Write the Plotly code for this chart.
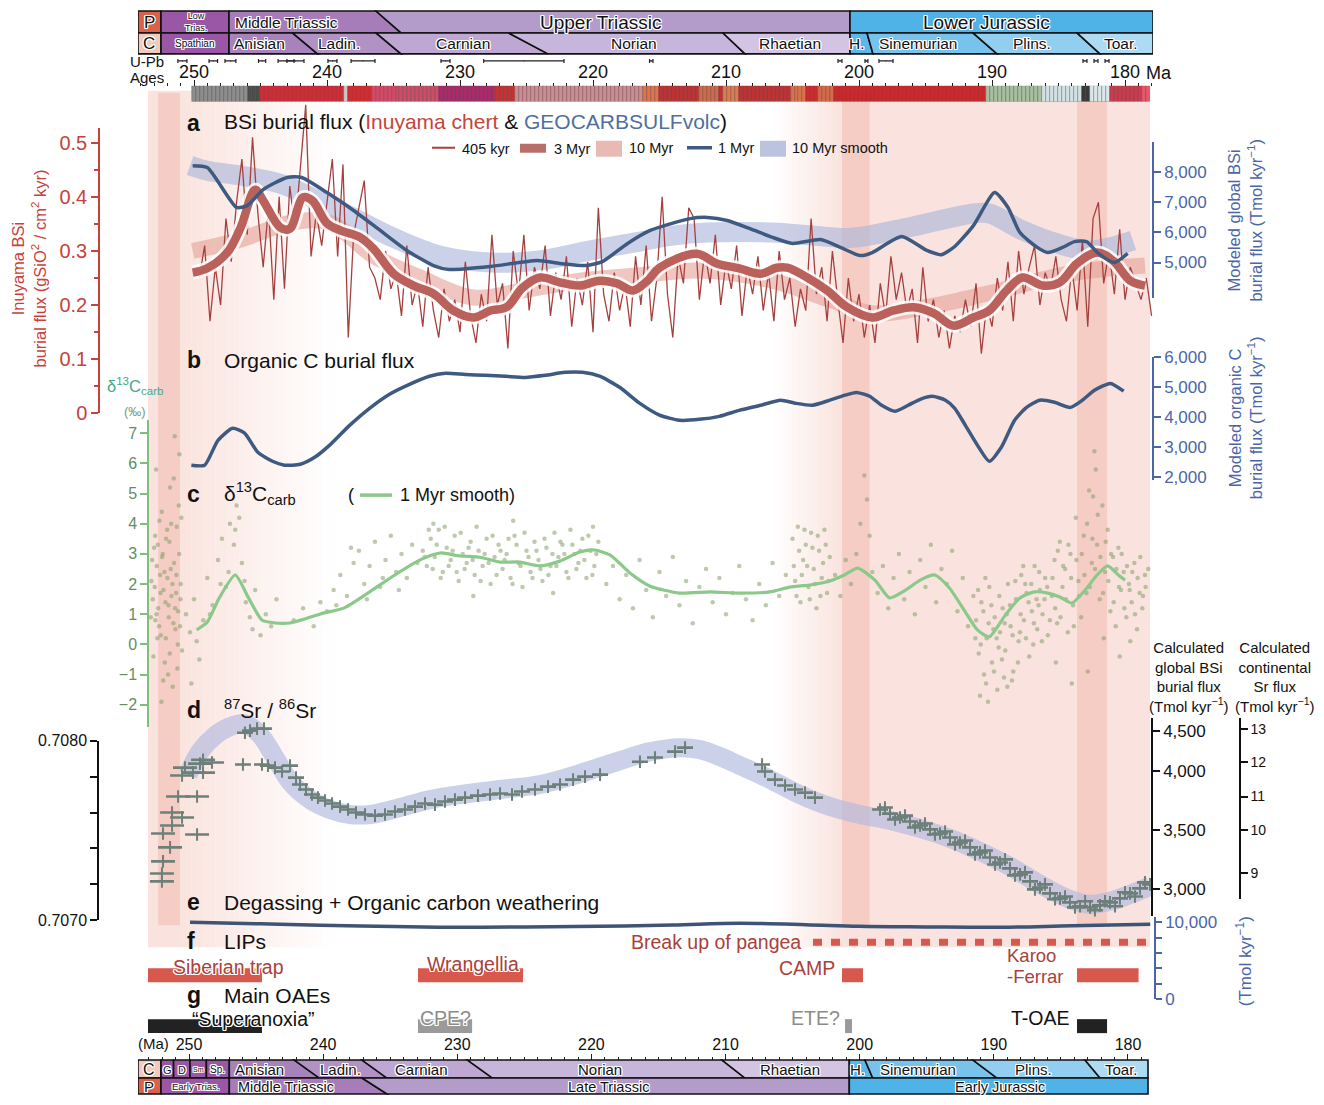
import numpy as np
import plotly.graph_objects as go

W, H = 1324, 1105
FONT = "Liberation Sans, Arial, Helvetica, sans-serif"
HALO = ("1px 1px 0 #fff, -1px -1px 0 #fff, 1px -1px 0 #fff, -1px 1px 0 #fff, "
        "1px 0 0 #fff, -1px 0 0 #fff, 0 1px 0 #fff, 0 -1px 0 #fff")

RED = "#c8413a"
BLUE = "#4a66a8"
NAVY = "#3e5a80"
GREEN = "#8ac98a"
LIPRED = "#d9584e"

# ------------------------------------------------------------------ data --
# (a) Inuyama chert BSi burial flux (g SiO2 cm-2 kyr-1), 405-kyr filtered record
bsi_405_first_age = 249.6
bsi_405_step = 0.4
bsi_405 = [
    0.25, 0.31, 0.17, 0.27, 0.20, 0.36, 0.28, 0.39, 0.47, 0.33,
    0.51, 0.37, 0.27, 0.38, 0.21, 0.40, 0.23, 0.42, 0.34, 0.45,
    0.57, 0.29, 0.37, 0.31, 0.39, 0.47, 0.29, 0.46, 0.14, 0.33,
    0.38, 0.43, 0.27, 0.25, 0.21, 0.30, 0.23, 0.26, 0.18, 0.31,
    0.20, 0.24, 0.16, 0.27, 0.19, 0.14, 0.23, 0.17, 0.21, 0.15,
    0.28, 0.18, 0.13, 0.22, 0.17, 0.33, 0.20, 0.24, 0.12, 0.30,
    0.22, 0.33, 0.19, 0.27, 0.23, 0.31, 0.18, 0.26, 0.21, 0.29,
    0.16, 0.25, 0.20, 0.28, 0.15, 0.38, 0.22, 0.17, 0.26, 0.19,
    0.24, 0.16, 0.29, 0.20, 0.31, 0.17, 0.25, 0.40, 0.22, 0.14,
    0.29, 0.24, 0.38, 0.36, 0.21, 0.30, 0.24, 0.33, 0.20, 0.28,
    0.23, 0.31, 0.18, 0.27, 0.22, 0.29, 0.19, 0.26, 0.17, 0.30,
    0.21, 0.25, 0.16, 0.23, 0.19, 0.36, 0.22, 0.27, 0.17, 0.30,
    0.21, 0.13, 0.25, 0.17, 0.22, 0.14, 0.20, 0.13, 0.24, 0.18,
    0.29, 0.21, 0.26, 0.19, 0.23, 0.13, 0.27, 0.17, 0.21, 0.14,
    0.19, 0.12, 0.18, 0.15, 0.21, 0.16, 0.24, 0.11, 0.20, 0.16,
    0.25, 0.19, 0.28, 0.17, 0.30, 0.22, 0.27, 0.31, 0.20, 0.26,
    0.23, 0.29, 0.21, 0.17, 0.27, 0.19, 0.32, 0.16, 0.36, 0.39,
    0.24, 0.30, 0.22, 0.34, 0.21, 0.27, 0.24, 0.21, 0.25, 0.18,
]
bsi_405_age = bsi_405_first_age - bsi_405_step * np.arange(len(bsi_405))

bsi_3myr_age = [250.1, 249.0, 247.5, 246.5, 245.4, 244.8, 243.5, 242.8, 241.8, 241.1,
                240.0, 239.0, 237.5, 236.5, 235.0, 233.5, 232.0, 230.5, 229.0, 227.7,
                226.5, 225.3, 224.0, 222.5, 221.0, 219.5, 218.2, 217.0, 215.9, 215.0,
                212.2, 210.7, 209.0, 207.4, 206.2, 205.4, 203.9, 202.4, 200.9, 199.0,
                197.4, 195.9, 194.4, 192.9, 191.4, 190.2, 188.9, 187.7, 186.2, 184.9,
                183.6, 182.1, 180.9, 179.6, 178.5]
bsi_3myr = [0.260, 0.268, 0.297, 0.343, 0.413, 0.393, 0.343, 0.341, 0.399, 0.393,
            0.351, 0.338, 0.325, 0.304, 0.258, 0.236, 0.221, 0.190, 0.177, 0.190,
            0.196, 0.232, 0.251, 0.242, 0.236, 0.245, 0.240, 0.227, 0.245, 0.269,
            0.295, 0.277, 0.268, 0.258, 0.269, 0.269, 0.251, 0.227, 0.196, 0.177,
            0.190, 0.196, 0.185, 0.162, 0.177, 0.190, 0.227, 0.251, 0.236, 0.242,
            0.277, 0.297, 0.282, 0.245, 0.236]

bsi_10myr_age = [250.1, 246.5, 242.8, 239.8, 236.5, 233.0, 229.0, 225.3, 221.0, 216.5,
                 212.0, 206.5, 202.0, 199.0, 194.4, 189.4, 184.9, 181.1, 178.5]
bsi_10myr = [0.300, 0.321, 0.352, 0.352, 0.291, 0.251, 0.214, 0.227, 0.245, 0.255,
             0.264, 0.245, 0.208, 0.185, 0.199, 0.227, 0.255, 0.268, 0.273]

# GEOCARBSULFvolc modelled global BSi burial (Tmol kyr-1)
geo_bsi_1myr_age = [250.1, 249.0, 246.8, 246.0, 244.8, 243.0, 241.9, 240.0, 238.0, 236.0,
                    234.0, 232.0, 230.8, 227.7, 224.2, 222.5, 220.5, 219.3, 217.4, 215.7,
                    212.7, 211.4, 209.9, 208.2, 206.5, 205.0, 202.9, 201.4, 199.9, 199.0,
                    196.8, 194.9, 193.8, 192.8, 191.4, 189.8, 188.8, 187.9, 186.6, 185.8,
                    184.7, 183.8, 182.9, 182.0, 180.8, 179.8]
geo_bsi_1myr = [8200, 8140, 6820, 6880, 7410, 7810, 7810, 7310, 6720, 6060,
                5400, 4900, 4770, 4870, 5070, 4970, 4900, 5030, 5630, 6060,
                6450, 6490, 6390, 6120, 5830, 5630, 5760, 5500, 5230, 5330,
                5860, 5400, 5260, 5530, 6220, 7310, 6820, 5990, 5500, 5330,
                5500, 5690, 5690, 5300, 5000, 5300]
geo_bsi_10myr_age = [250.3, 249.0, 246.5, 243.5, 241.1, 238.0, 235.0, 231.5, 227.7, 224.0,
                     220.2, 216.5, 214.0, 211.4, 206.5, 203.5, 200.5, 196.4, 191.4, 190.2,
                     187.7, 185.1, 182.6, 179.4]
geo_bsi_10myr = [8200, 8030, 7870, 7600, 7140, 6480, 5820, 5230, 5000, 5070,
                 5400, 5690, 5890, 5990, 5990, 5890, 5820, 6150, 6620, 6620,
                 6060, 5630, 5400, 5730]

# (b) modelled organic C burial (Tmol kyr-1)
orgc_age = [250.2, 249.2, 248.2, 247.1, 246.2, 245.2, 244.1, 243.2, 242.0, 240.9,
            239.8, 238.3, 236.8, 235.3, 233.8, 232.3, 231.1, 229.6, 228.1, 226.6,
            225.1, 223.6, 222.1, 220.8, 219.5, 218.0, 216.5, 215.0, 213.5, 212.0,
            210.5, 209.0, 207.4, 205.9, 204.8, 203.5, 202.2, 201.1, 200.2, 199.2,
            198.3, 197.3, 196.3, 195.4, 194.5, 193.5, 192.8, 192.0, 191.1, 190.2,
            189.3, 188.3, 187.4, 186.4, 185.3, 184.1, 183.2, 182.3, 181.1, 180.1]
orgc = [2400, 2400, 3230, 3630, 3470, 2830, 2530, 2400, 2430, 2670,
        3070, 3730, 4300, 4770, 5100, 5370, 5470, 5430, 5400, 5370,
        5330, 5400, 5500, 5500, 5370, 5000, 4470, 4070, 3900, 3930,
        4030, 4230, 4400, 4570, 4470, 4400, 4570, 4730, 4830, 4700,
        4400, 4200, 4400, 4600, 4700, 4570, 4300, 3730, 3070, 2530,
        3000, 3900, 4330, 4570, 4500, 4330, 4570, 4900, 5130, 4870]

# (c) carbonate d13C (permil), compiled measurements (age Ma, value)
d13c_ptb = [(253.2, 2.1), (253.1, 1.5), (253.0, 3.2), (252.9, 0.8), (252.8, 2.6), (252.7, 1.2),
            (252.6, 4.1), (252.5, 0.3), (252.4, 2.9), (252.3, 1.8), (252.2, -0.6), (252.1, 3.5),
            (252.0, 2.2), (251.9, 0.9), (251.8, 5.2), (251.7, 1.6), (251.6, -1.4), (251.5, 2.7),
            (251.4, 0.5), (251.3, 3.9), (251.2, 1.1), (251.1, 6.3), (251.0, 2.0), (250.9, -0.2),
            (252.95, 1.9), (252.75, 0.2), (252.55, 2.3), (252.35, 3.0), (252.15, 1.4), (251.95, -1.0),
            (251.75, 2.5), (251.55, 0.7), (251.35, 1.7), (251.15, 4.6), (252.85, 5.8), (252.45, -1.9),
            (251.85, 3.4), (251.45, 6.9), (251.25, -0.8), (251.05, 0.6),
            (253.25, 0.9), (253.15, 2.8), (253.05, -0.4), (252.92, 3.6), (252.82, 1.0), (252.72, 3.3),
            (252.62, 0.6), (252.52, 1.7), (252.42, 4.4), (252.32, -1.2), (252.22, 2.4), (252.12, 0.2),
            (252.02, 3.8), (251.92, 1.3), (251.82, -0.3), (251.72, 4.0), (251.62, 2.0), (251.52, 5.5),
            (251.42, 1.2), (251.32, 2.3), (251.22, 0.0), (251.12, 3.0), (251.02, 1.5), (250.95, 4.2)]
d13c_early_tr = [(250.6, 1.0), (250.3, 0.4), (250.0, 1.5), (249.6, -0.5), (249.3, 0.8), (249.0, 2.2),
                 (248.6, 1.3), (248.2, 2.8), (247.9, 3.5), (247.6, 1.9), (247.3, 4.0), (247.0, 3.3),
                 (246.8, 4.6), (246.6, 4.2), (246.4, 2.7), (246.1, 1.4), (245.8, 0.9), (245.4, 1.8),
                 (245.0, 0.3), (244.6, 1.0), (244.2, 0.6), (243.8, 1.5), (250.2, -1.3), (249.8, 0.1),
                 (248.8, 1.0), (248.0, 2.0), (247.4, 2.4), (246.9, 3.8), (246.2, 2.1), (245.6, 0.5),
                 (242.5, 0.8), (241.8, 1.2), (241.0, 0.6), (240.5, 1.4), (240.0, 1.1), (239.5, 1.8)]
d13c_mid_tr = [(239.0, 2.3), (238.5, 1.6), (238.0, 2.7), (237.6, 3.1), (237.2, 2.0), (236.8, 2.6),
               (236.4, 3.4), (236.0, 1.9), (235.6, 2.8), (235.2, 3.6), (234.8, 2.4), (234.4, 3.0),
               (234.0, 2.2), (233.6, 3.3), (233.2, 2.7), (239.3, 1.3), (238.2, 3.2), (237.0, 1.5),
               (235.8, 2.2), (234.6, 1.8)]
d13c_late_tr = [(232.8, 3.1), (232.5, 2.6), (232.2, 3.5), (231.9, 2.9), (231.6, 3.8), (231.3, 2.4),
                (231.0, 3.2), (230.7, 2.8), (230.4, 3.6), (230.1, 2.1), (229.8, 3.0), (229.5, 2.7),
                (229.2, 3.4), (228.9, 2.3), (228.6, 3.1), (228.3, 2.6), (228.0, 3.5), (227.7, 2.0),
                (227.4, 2.9), (227.1, 3.3), (226.8, 2.5), (226.5, 3.0), (226.2, 2.2), (225.9, 3.6),
                (225.6, 2.7), (225.3, 1.9), (225.0, 3.1), (224.7, 2.4), (224.4, 3.4), (224.1, 2.8),
                (223.8, 2.1), (223.5, 3.2), (223.2, 2.6), (222.9, 3.7), (222.6, 2.9), (222.3, 3.3),
                (222.0, 2.4), (221.7, 3.8), (221.4, 3.0), (221.1, 2.7), (220.8, 3.5), (220.5, 2.2),
                (220.2, 3.1), (219.9, 2.6), (219.6, 3.4), (232.0, 4.0), (229.0, 1.6), (226.0, 4.1),
                (223.0, 1.7), (220.0, 3.9),
                (232.65, 2.9), (232.35, 3.8), (232.05, 2.5), (231.75, 3.3), (231.45, 2.2), (231.15, 3.9),
                (230.85, 2.6), (230.55, 3.1), (230.25, 2.4), (229.95, 3.7), (229.65, 2.5), (229.35, 3.2),
                (229.05, 2.8), (228.75, 3.9), (228.45, 2.1), (228.15, 3.0), (227.85, 2.7), (227.55, 3.6),
                (227.25, 2.3), (226.95, 3.1), (226.65, 2.8), (226.35, 3.5), (226.05, 2.0), (225.75, 3.3),
                (225.45, 2.6), (225.15, 3.7), (224.85, 2.9), (224.55, 2.2), (224.25, 3.1), (223.95, 2.5),
                (223.65, 3.5), (223.35, 2.3), (223.05, 3.0), (222.75, 2.6), (222.45, 3.4), (222.15, 3.0),
                (221.85, 2.2), (221.55, 3.3), (221.25, 2.5), (220.95, 3.1), (220.65, 2.8), (220.35, 3.6),
                (220.05, 2.3), (219.75, 3.0),
                (219.0, 2.0), (218.5, 2.6), (218.0, 1.5), (217.5, 2.3), (217.0, 1.2), (216.5, 2.8),
                (216.0, 1.8), (215.5, 0.9), (215.0, 2.4), (214.5, 1.6), (214.0, 2.9), (213.5, 1.3),
                (213.0, 2.1), (212.5, 0.7), (212.0, 1.9), (211.5, 2.5), (211.0, 1.4), (210.5, 2.2),
                (210.0, 1.0), (209.5, 1.7), (209.0, 2.6), (208.5, 1.5), (208.0, 0.8), (207.5, 2.0),
                (207.0, 1.3), (206.5, 2.7), (206.0, 1.6), (205.5, 2.3),
                (205.0, 3.5), (204.8, 2.1), (204.6, 3.9), (204.4, 1.4), (204.2, 2.8), (204.0, 3.3),
                (203.8, 1.9), (203.6, 3.7), (203.4, 2.5), (203.2, 1.2), (203.0, 3.1), (202.8, 2.2),
                (202.6, 3.8), (202.4, 1.7), (202.2, 2.9),
                (204.9, 2.6), (204.7, 1.6), (204.5, 3.1), (204.3, 2.3), (204.1, 3.8), (203.9, 2.6),
                (203.7, 1.5), (203.5, 3.2), (203.3, 2.0), (203.1, 3.6), (202.9, 1.6), (202.7, 2.7),
                (202.5, 3.3), (202.3, 2.1)]
d13c_early_jr = [(201.8, 2.3), (201.4, 1.6), (201.0, 2.8), (200.6, 2.0), (200.2, 3.0), (199.9, 4.0),
                 (199.6, 5.6), (199.4, 4.8), (199.2, 3.6), (199.0, 2.4),
                 (198.6, 1.7), (198.2, 2.6), (197.8, 1.2), (197.4, 2.2), (197.0, 3.0), (196.6, 1.5),
                 (196.2, 2.4), (195.8, 1.0), (195.4, 2.8), (195.0, 1.9), (194.6, 3.3), (194.2, 1.4),
                 (193.8, 2.5), (193.4, 2.0), (193.0, 3.1), (192.6, 1.1), (192.2, 2.2), (191.8, 0.6),
                 (191.4, 1.6),
                 (191.2, 0.8), (191.0, -0.3), (190.8, 1.4), (190.6, -1.0), (190.4, 0.2), (190.2, 1.9),
                 (190.0, -0.6), (189.8, 0.9), (189.6, -1.5), (189.4, 0.4), (189.2, 1.2), (189.0, -0.2),
                 (188.8, 2.0), (188.6, 0.6), (188.4, -0.9), (188.2, 1.5), (188.0, 0.1), (187.8, 2.3),
                 (187.6, 0.8), (187.4, 1.7), (187.2, -0.4), (187.0, 1.1), (186.8, 2.6), (186.6, 0.5),
                 (186.4, 1.8), (186.2, 1.0), (186.0, 2.2), (185.8, 0.3), (190.9, -1.7), (190.5, 2.2),
                 (189.9, 0.5), (189.5, -0.1), (188.9, 1.0), (188.5, -1.2), (187.9, 0.4), (187.5, 2.0),
                 (186.9, 0.0), (186.5, 1.3), (190.3, -1.9), (189.1, -1.1),
                 (191.25, 0.2), (191.05, 1.8), (190.85, 0.0), (190.65, 1.1), (190.45, -1.3), (190.25, 0.7),
                 (190.05, 1.3), (189.85, -0.9), (189.65, 0.2), (189.45, 1.6), (189.25, -0.5), (189.05, 0.7),
                 (188.85, -1.4), (188.65, 1.3), (188.45, 0.3), (188.25, 2.1), (188.05, -0.6), (187.85, 1.0),
                 (187.65, 2.6), (187.45, 0.2), (187.25, 1.4), (187.05, 2.0), (186.85, 0.7), (186.65, 1.5),
                 (186.45, 2.4), (186.25, 0.1), (186.05, 1.5), (185.85, 1.9), (185.65, 0.8)]
d13c_toarc = [(185.5, 1.6), (185.3, 2.8), (185.1, 0.7), (184.9, 3.4), (184.7, 1.9), (184.5, 2.5),
              (184.3, 0.4), (184.1, 3.0), (183.9, 1.3), (183.7, 4.2), (183.5, 2.1), (183.3, 0.9),
              (183.1, 3.6), (182.9, 1.7), (182.7, 5.1), (182.5, 2.7), (182.3, 6.4), (182.1, 3.3),
              (181.9, 1.5), (181.7, 4.6), (181.5, 2.4), (181.3, 3.8), (181.1, 1.1), (180.9, 2.9),
              (180.7, 0.6), (180.5, 3.2), (180.3, 1.8), (180.1, 2.4), (179.9, 0.9), (179.7, 2.0),
              (179.5, 1.4), (179.3, 2.7), (179.1, 0.5), (178.9, 1.7), (178.7, 1.2), (178.5, 2.3),
              (185.2, -0.6), (184.0, -1.3), (182.8, -0.9), (181.6, 0.2), (180.4, -0.4), (179.6, 0.1),
              (182.4, 4.9), (182.2, 5.8),
              (185.45, 2.2), (185.25, 1.2), (185.05, 3.1), (184.85, 0.9), (184.65, 2.6), (184.45, 1.5),
              (184.25, 3.3), (184.05, 2.2), (183.85, 0.6), (183.65, 2.8), (183.45, 1.6), (183.25, 3.0),
              (183.05, 2.3), (182.85, 4.0), (182.65, 1.9), (182.45, 3.5), (182.25, 2.5), (182.05, 4.3),
              (181.85, 2.9), (181.65, 1.7), (181.45, 3.4), (181.25, 2.1), (181.05, 3.0), (180.85, 1.4),
              (180.65, 2.5), (180.45, 1.9), (180.25, 3.0), (180.05, 1.2), (179.85, 2.6), (179.65, 1.8),
              (179.45, 2.4), (179.25, 1.0), (179.05, 2.2), (178.85, 2.9), (178.65, 1.6), (178.45, 1.9),
              (178.25, 2.5)]

d13c_smooth_age = [249.8, 249.0, 248.1, 246.9, 245.9, 244.9, 243.9, 242.8, 241.7, 240.5,
                   238.7, 236.8, 234.9, 233.0, 231.5, 230.0, 228.5, 227.0, 225.5, 224.0,
                   222.5, 221.0, 219.9, 218.7, 217.2, 215.7, 213.5, 211.2, 209.0, 206.7,
                   205.2, 203.7, 202.2, 201.1, 200.1, 198.8, 197.7, 196.5, 195.4, 194.3,
                   193.2, 192.0, 191.1, 190.2, 189.0, 187.9, 186.8, 185.8, 184.9, 184.0,
                   183.0, 182.1, 181.3, 180.5, 180.0]
d13c_smooth = [0.48, 0.74, 1.54, 2.30, 1.54, 0.81, 0.71, 0.71, 0.84, 1.01,
               1.21, 1.74, 2.30, 2.80, 3.03, 2.93, 2.89, 2.73, 2.73, 2.60,
               2.76, 3.06, 3.13, 2.96, 2.36, 1.93, 1.70, 1.74, 1.70, 1.74,
               1.90, 1.97, 2.10, 2.30, 2.53, 2.13, 1.54, 1.80, 2.13, 2.30,
               1.87, 1.07, 0.48, 0.25, 0.97, 1.54, 1.74, 1.70, 1.57, 1.37,
               1.80, 2.30, 2.60, 2.30, 2.13]

# (d) seawater 87Sr/86Sr (age Ma, ratio)
sr_ptb = [(252.41, 0.707217), (252.41, 0.707261), (252.33, 0.707328), (251.80, 0.707406),
          (252.33, 0.707483), (251.65, 0.707528), (251.65, 0.707600), (250.90, 0.707572),
          (251.20, 0.707689), (250.90, 0.707806), (250.68, 0.707850), (249.77, 0.707478),
          (249.77, 0.707689), (250.08, 0.707822), (249.32, 0.707822), (249.32, 0.707894),
          (248.65, 0.707878), (249.55, 0.707872)]
sr_ptb_err = 0.9
sr_main = [(246.32, 0.707867), (246.17, 0.708044), (245.26, 0.708067), (245.79, 0.708056),
           (244.74, 0.708067), (244.89, 0.707867), (244.44, 0.707861), (243.91, 0.707850),
           (243.38, 0.707828), (242.78, 0.707861), (242.33, 0.707794), (242.03, 0.707756),
           (241.58, 0.707728), (241.13, 0.707700), (240.68, 0.707683), (240.15, 0.707667),
           (239.62, 0.707650), (239.02, 0.707633), (238.42, 0.707617), (237.82, 0.707600),
           (237.14, 0.707589), (236.39, 0.707583), (235.64, 0.707589), (234.89, 0.707606),
           (234.14, 0.707617), (233.38, 0.707633), (232.63, 0.707650), (231.88, 0.707644),
           (231.13, 0.707661), (230.38, 0.707672), (229.62, 0.707683), (228.65, 0.707694),
           (227.74, 0.707700), (226.99, 0.707706), (226.09, 0.707700), (225.34, 0.707717),
           (224.36, 0.707728), (223.38, 0.707744), (222.48, 0.707756), (221.50, 0.707783),
           (220.60, 0.707800), (219.47, 0.707811), (216.47, 0.707883), (215.34, 0.707906),
           (213.83, 0.707939), (213.08, 0.707961), (207.29, 0.707867), (207.07, 0.707828),
           (206.32, 0.707783), (205.56, 0.707750), (204.81, 0.707728), (204.06, 0.707711),
           (203.31, 0.707683),
           (198.42, 0.707617), (197.67, 0.707594), (196.92, 0.707572), (196.17, 0.707550),
           (195.41, 0.707528), (194.66, 0.707506), (193.91, 0.707483), (193.16, 0.707461),
           (192.41, 0.707433), (191.65, 0.707406), (190.90, 0.707378), (190.15, 0.707350),
           (189.40, 0.707322), (188.65, 0.707289), (187.89, 0.707256), (187.14, 0.707217),
           (186.39, 0.707183), (185.64, 0.707150), (184.89, 0.707122), (184.14, 0.707100),
           (183.38, 0.707078), (182.63, 0.707072), (181.88, 0.707083), (181.13, 0.707100),
           (180.38, 0.707122), (179.62, 0.707150), (178.87, 0.707178), (178.12, 0.707200),
           (198.05, 0.707628), (197.29, 0.707561), (196.54, 0.707583), (195.79, 0.707517),
           (195.04, 0.707539), (194.29, 0.707478), (193.53, 0.707494), (192.78, 0.707422),
           (192.03, 0.707444), (191.28, 0.707367), (190.53, 0.707389), (189.77, 0.707311),
           (189.02, 0.707339), (188.27, 0.707250), (187.52, 0.707267), (186.77, 0.707172),
           (186.02, 0.707200), (185.26, 0.707117), (184.51, 0.707133), (183.76, 0.707072),
           (183.00, 0.707106), (182.26, 0.707056), (181.50, 0.707106), (180.75, 0.707078),
           (180.00, 0.707156), (179.25, 0.707133), (178.50, 0.707211)]
sr_main_err = 0.6

sr_smooth_age = [250.45, 249.55, 248.42, 247.29, 246.17, 245.04, 243.91, 242.78, 241.28, 239.77,
                 238.27, 236.77, 234.51, 232.26, 230.00, 226.99, 223.98, 220.98, 217.97, 215.71,
                 213.46, 211.95, 210.45, 208.95, 207.44, 205.94, 204.44, 202.18, 199.92, 197.67,
                 195.41, 193.16, 190.90, 188.65, 186.39, 184.14, 182.63, 181.13, 179.62, 178.12]
sr_smooth = [0.707811, 0.707939, 0.708028, 0.708078, 0.708094, 0.708033, 0.707906, 0.707772,
             0.707672, 0.707617, 0.707589, 0.707589, 0.707628, 0.707672, 0.707700, 0.707728,
             0.707756, 0.707817, 0.707889, 0.707939, 0.707961, 0.707950, 0.707911, 0.707861,
             0.707811, 0.707756, 0.707700, 0.707633, 0.707589, 0.707556, 0.707511, 0.707456,
             0.707383, 0.707300, 0.707200, 0.707117, 0.707089, 0.707106, 0.707144, 0.707189]

# (e) degassing + organic carbon weathering (Tmol kyr-1)
degas_age = [250.3, 245.0, 240.5, 235.0, 230.0, 225.0, 219.5, 214.0, 209.0, 204.0,
             200.0, 195.0, 189.4, 184.0, 178.1]
degas = [10000, 9800, 9610, 9450, 9350, 9400, 9480, 9650, 9870, 9700,
         9480, 9400, 9350, 9550, 9740]

# (f) large igneous provinces (old age, young age)
lip_names = ["Siberian trap", "Wrangellia", "CAMP", "Karoo-Ferrar"]
lip_old = [253.46, 233.16, 201.28, 183.61]
lip_young = [244.89, 225.26, 199.70, 178.98]
pangea_breakup = (203.46, 178.12)

# (g) oceanic anoxic events (old age, young age)
oae_names = ["Superanoxia", "CPE?", "ETE?", "T-OAE"]
oae_old = [253.46, 233.16, 201.05, 183.61]
oae_young = [244.89, 229.09, 200.53, 181.35]

# U-Pb radioisotopic ages (Ma) and 2-sigma uncertainties (Myr)
upb_age = [250.87, 248.55, 247.26, 244.88, 243.08, 242.37, 239.59, 237.29, 231.09,
           225.20, 215.62, 201.43, 199.44, 197.97, 183.01, 182.18, 181.35]
upb_err = [0.34, 0.32, 0.41, 0.27, 0.60, 0.64, 0.34, 0.90, 0.34,
           3.02, 0.13, 0.15, 0.11, 0.53, 0.15, 0.15, 0.15]

# Magnetostratigraphic / lithological colour log (old age, young age, colour)
mag_old = [250.08, 245.90, 244.96, 238.87, 238.35, 236.62, 231.58, 227.29, 225.94, 216.24,
           215.11, 211.96, 210.68, 210.23, 209.17, 205.19, 204.06, 203.16, 201.96, 190.38,
           186.39, 183.23, 182.78, 181.28, 178.87]
mag_young = [245.90, 244.96, 238.87, 238.35, 236.62, 231.58, 227.29, 225.94, 216.24, 215.11,
             211.96, 210.68, 210.23, 209.17, 205.19, 204.06, 203.16, 201.96, 190.38, 186.39,
             183.23, 182.78, 181.28, 178.87, 178.12]
mag_colors = ["#8d8d8d", "#4d4d4d", "#c8303a", "#c9c9c9", "#cc2f33", "#cf4c68", "#b3246e",
              "#cf2e30", "#c98d92", "#e0734c", "#c92d30", "#cf6a4a", "#c92d30", "#dc7a50",
              "#c92d30", "#d9734d", "#c92d30", "#cf6d4b", "#c62b2e", "#a5bf9f", "#d2e2e4",
              "#3a3a3a", "#dbe7ea", "#c2404f", "#e35b6b"]

# Geological time scale (top strip): boundary ages as (upper edge, lower edge)
ts_top_epoch_b = [(254.211, 254.211), (252.481, 252.481), (247.368, 247.368),
                  (236.316, 234.436), (200.677, 200.677), (177.895, 177.895)]
ts_top_epoch = ["P", "Low<br>Trias.", "Middle Triassic", "Upper Triassic", "Lower Jurassic"]
ts_top_stage_b = [(254.211, 254.211), (252.481, 252.481), (247.368, 247.368),
                  (242.594, 240.714), (236.316, 234.436), (226.346, 223.383),
                  (210.226, 208.571), (200.677, 200.677), (199.398, 198.947),
                  (191.429, 189.624), (183.609, 181.880), (177.895, 177.895)]
ts_top_stage = ["C", "Spathian", "Anisian", "Ladin.", "Carnian", "Norian", "Rhaetian",
                "H.", "Sinemurian", "Plins.", "Toar."]
# bottom strip (own age scale)
ts_bot_stage_b = [(253.802, 253.802), (252.087, 252.087), (251.148, 251.148),
                  (249.925, 249.925), (248.703, 248.703), (246.996, 246.996),
                  (242.150, 240.286), (237.103, 235.240), (229.238, 227.374),
                  (210.265, 208.550), (200.776, 200.776), (199.605, 199.031),
                  (191.553, 189.764), (183.204, 182.086), (178.507, 178.507)]
ts_bot_stage = ["C", "G", "D", "Sm", "Sp.", "Anisian", "Ladin.", "Carnian", "Norian",
                "Rhaetian", "H.", "Sinemurian", "Plins.", "Toar."]
ts_bot_epoch_b = [(253.802, 253.802), (252.087, 252.087), (246.996, 246.996),
                  (237.103, 235.240), (200.776, 200.776), (178.507, 178.507)]
ts_bot_epoch = ["P", "Early Trias.", "Middle Triassic", "Late Triassic", "Early Jurassic"]


# ------------------------------------------------------------- helpers ----
# Layout rows are given as pixel rows of the printed page; the page shows the
# canvas between rows TOP_ROW and TOP_ROW + V_SCALE * H.
TOP_ROW = 8.0
V_SCALE = 0.9837


def px(x):
    return x / W


def py(y):
    return 1 - ((y - TOP_ROW) / V_SCALE) / H


def lin_axis(v1, p1, v2, p2, top, bot):
    """Linear y axis placing value v1 at pixel row p1 and v2 at p2, spanning rows top..bot."""
    s = (v2 - v1) / (p2 - p1)
    return dict(domain=[py(bot), py(top)],
                range=[v1 + (bot - p1) * s, v1 + (top - p1) * s],
                autorange=False, fixedrange=True)


def hidden_axis(*a):
    d = lin_axis(*a)
    d.update(visible=False, anchor="x", showgrid=False, zeroline=False)
    return d


def shown_axis(mapping, top, bot, pos, side, color, tickvals, ticktext,
               labelcolor=None, size=17, ticklen=7, minor=None):
    d = lin_axis(*mapping, top, bot)
    d.update(anchor="free", position=px(pos), side=side, showline=True, linecolor=color,
             linewidth=1.5, ticks="outside", ticklen=ticklen, tickwidth=1.5, tickcolor=color,
             tickmode="array", tickvals=tickvals, ticktext=ticktext,
             tickfont=dict(family=FONT, size=size, color=labelcolor or color),
             showgrid=False, zeroline=False)
    if minor:
        d["minor"] = minor
    return d


MAP_BSI = (0.5, 142, 0.0, 413)
MAP_GEO = (8000, 171, 5000, 262)
MAP_ORG = (6000, 357, 2000, 477)
MAP_D13 = (7, 433, -2, 705)
MAP_SR = (0.7080, 741, 0.7070, 921)
MAP_DEG = (10000, 923, 0, 1000)

AGE_RANGE = [254.211, 177.895]
AGE_RANGE_BOT = [253.802, 178.135]

fig = go.Figure()
skip = dict(hoverinfo="skip", showlegend=False)

# colour log strip
mag_x = np.arange(250.0, 178.1, -0.3)
mag_c = []
for a in mag_x:
    c = "#c62b2e"
    for o, yv, col in zip(mag_old, mag_young, mag_colors):
        if yv <= a <= o:
            c = col
            break
    mag_c.append(c)
fig.add_trace(go.Bar(x=mag_x, y=[1] * len(mag_x), width=0.3, xaxis="x", yaxis="y8",
                     marker=dict(color=mag_c, line=dict(color="rgba(60,20,20,0.45)", width=0.6)),
                     **skip))

# U-Pb ages
fig.add_trace(go.Scatter(x=upb_age, y=[0.5] * len(upb_age), mode="markers", xaxis="x", yaxis="y9",
                         marker=dict(size=1, color="#222"),
                         error_x=dict(type="data", array=upb_err, color="#222", thickness=1.2, width=2),
                         **skip))

# (a) modelled BSi, 10-Myr smooth band
fig.add_trace(go.Scatter(x=geo_bsi_10myr_age, y=geo_bsi_10myr, mode="lines", xaxis="x", yaxis="y",
                         line=dict(color="rgba(170,180,218,0.62)", width=20, shape="spline"), **skip))
# (a) Inuyama records
fig.add_trace(go.Scatter(x=bsi_10myr_age, y=bsi_10myr, mode="lines", xaxis="x", yaxis="y2",
                         line=dict(color="rgba(228,160,150,0.6)", width=16, shape="spline"), **skip))
fig.add_trace(go.Scatter(x=bsi_405_age, y=bsi_405, mode="lines", xaxis="x", yaxis="y2",
                         line=dict(color="#a4413f", width=1.3), **skip))
fig.add_trace(go.Scatter(x=bsi_3myr_age, y=bsi_3myr, mode="lines", xaxis="x", yaxis="y2",
                         line=dict(color="rgba(255,255,255,0.85)", width=14, shape="spline"), **skip))
fig.add_trace(go.Scatter(x=bsi_3myr_age, y=bsi_3myr, mode="lines", xaxis="x", yaxis="y2",
                         line=dict(color="#b9615a", width=8.5, shape="spline"), **skip))
# (a) modelled BSi, 1 Myr
fig.add_trace(go.Scatter(x=geo_bsi_1myr_age, y=geo_bsi_1myr, mode="lines", xaxis="x", yaxis="y3",
                         line=dict(color=NAVY, width=3.5, shape="spline", smoothing=0.6), **skip))
# (b) organic carbon burial
fig.add_trace(go.Scatter(x=orgc_age, y=orgc, mode="lines", xaxis="x", yaxis="y4",
                         line=dict(color=NAVY, width=3.5, shape="spline", smoothing=0.6), **skip))
# (c) d13C carbonate
d13c_all = d13c_ptb + d13c_early_tr + d13c_mid_tr + d13c_late_tr + d13c_early_jr + d13c_toarc
fig.add_trace(go.Scatter(x=[p[0] for p in d13c_all], y=[p[1] for p in d13c_all], mode="markers",
                         xaxis="x", yaxis="y5",
                         marker=dict(size=4.5, color="rgba(135,158,108,0.55)", line=dict(width=0)),
                         **skip))
fig.add_trace(go.Scatter(x=d13c_smooth_age, y=d13c_smooth, mode="lines", xaxis="x", yaxis="y5",
                         line=dict(color=GREEN, width=3.2, shape="spline", smoothing=0.6), **skip))
# (d) Sr isotopes
fig.add_trace(go.Scatter(x=sr_smooth_age, y=sr_smooth, mode="lines", xaxis="x", yaxis="y6",
                         line=dict(color="rgba(176,184,222,0.65)", width=19, shape="spline"), **skip))
for pts, err in ((sr_ptb, sr_ptb_err), (sr_main, sr_main_err)):
    fig.add_trace(go.Scatter(x=[p[0] for p in pts], y=[p[1] for p in pts], mode="markers",
                             xaxis="x", yaxis="y6",
                             marker=dict(symbol="line-ns", size=9, line=dict(width=2, color="#6d7f79")),
                             error_x=dict(type="constant", value=err, color="#6d7f79",
                                          thickness=2.6, width=0),
                             **skip))
# (e) degassing
fig.add_trace(go.Scatter(x=degas_age, y=degas, mode="lines", xaxis="x", yaxis="y7",
                         line=dict(color="#3d5475", width=3.5, shape="spline"), **skip))

# invisible anchors so that every reference axis gets drawn
for ya, yv in (("y10", 0.2), ("y11", 6000), ("y12", 2), ("y13", 0.7075), ("y14", 0.7075), ("y15", 0.7075)):
    fig.add_trace(go.Scatter(x=[215], y=[yv], mode="markers", xaxis="x", yaxis=ya,
                             marker=dict(opacity=0), **skip))
for xa in ("x2", "x3"):
    fig.add_trace(go.Scatter(x=[215], y=[0.5], mode="markers", xaxis=xa, yaxis="y8",
                             marker=dict(opacity=0), **skip))

# --------------------------------------------------------------- shapes ----
shapes = []
annotations = []

PINK = "249,224,218"


def bg(a0, a1, alpha, top=90, bot=948, rgb=PINK):
    shapes.append(dict(type="rect", xref="x", yref="paper", x0=a0, x1=a1, y0=py(bot), y1=py(top),
                       fillcolor=f"rgba({rgb},{alpha:.3f})", line=dict(width=0), layer="below"))


bg(253.46, 251.05, 0.9)
n = 26
for i in range(n):
    a0 = 251.05 - (251.05 - 239.5) * i / n
    a1 = 251.05 - (251.05 - 239.5) * (i + 1) / n
    bg(a0, a1, 0.9 * (1 - (i + 0.5) / n))
m = 14
for i in range(m):
    a0 = 206.5 - (206.5 - 201.28) * i / m
    a1 = 206.5 - (206.5 - 201.28) * (i + 1) / m
    bg(a0, a1, 0.9 * (i + 0.5) / m)
bg(201.28, 178.12, 0.9)
for a0, a1 in ((252.7, 251.05), (201.28, 199.2), (183.61, 181.35)):
    bg(a0, a1, 0.32, top=92, bot=926, rgb="236,160,146")


def paper_rect(x0, x1, y0, y1, color):
    shapes.append(dict(type="rect", xref="paper", yref="paper", x0=px(x0), x1=px(x1),
                       y0=py(y1), y1=py(y0), fillcolor=color, line=dict(width=0)))


def paper_line(x0, x1, y, color, width):
    shapes.append(dict(type="line", xref="paper", yref="paper", x0=px(x0), x1=px(x1),
                       y0=py(y), y1=py(y), line=dict(color=color, width=width)))


def ann(x, y, text, size=16, color="#111", xanchor="left", yanchor="middle", halo=False,
        xref="paper", angle=0, align="left"):
    f = dict(family=FONT, size=size, color=color)
    if halo:
        f["shadow"] = HALO
    annotations.append(dict(x=px(x) if xref == "paper" else x, y=py(y), xref=xref, yref="paper",
                            text=text, showarrow=False, xanchor=xanchor, yanchor=yanchor,
                            font=f, textangle=angle, align=align))


# time scale strips
def strip(bounds, names, colors, y0, y1, xref, label_ages, sizes):
    for i, name in enumerate(names):
        lt, lb = bounds[i]
        rt, rb = bounds[i + 1]
        path = (f"M{lt},{py(y0)} L{rt},{py(y0)} L{rb},{py(y1)} L{lb},{py(y1)} Z")
        shapes.append(dict(type="path", xref=xref, yref="paper", path=path, fillcolor=colors[i],
                           line=dict(color="#111", width=1.6), layer="above"))
        ann(label_ages[i], (y0 + y1) / 2 + 0.5, name, size=sizes[i], halo=True, xref=xref,
            xanchor="center", align="center")


C_P, C_C, C_ET = "#d8624a", "#f3cbbd", "#9a57a5"
C_MT, C_UT, C_LJ = "#a67db8", "#b39cc9", "#4fb3e7"
strip(ts_top_epoch_b, ts_top_epoch, [C_P, C_ET, C_MT, C_UT, C_LJ], 10, 32, "x",
      [253.35, 249.85, 243.08, 219.47, 190.45], [17, 9, 15.5, 19, 19])
strip(ts_top_stage_b, ts_top_stage,
      [C_C, C_ET, "#a883bb", "#b292c5", "#bea8d3", "#c7b6dc", "#d3c4e3",
       "#5cb8ea", "#77c3ec", "#92cef0", "#addbf4"], 32, 53, "x",
      [253.35, 249.95, 245.11, 239.10, 229.77, 216.92, 205.19, 200.15, 195.56, 187.0, 180.3],
      [17, 10, 15.5, 15.5, 15.5, 15.5, 15.5, 15.5, 15.5, 15.5, 15.5])
strip(ts_bot_stage_b, ts_bot_stage,
      [C_C, C_ET, C_ET, C_ET, C_ET, "#a883bb", "#b292c5", "#bea8d3", "#c7b6dc", "#d3c4e3",
       "#5cb8ea", "#77c3ec", "#92cef0", "#addbf4"], 1061, 1079, "x3",
      [253.0, 251.62, 250.52, 249.30, 247.86, 244.78, 238.74, 232.70, 219.36, 205.20,
       200.20, 195.65, 187.08, 180.52],
      [16, 11, 11, 7, 10, 15, 15, 15, 15, 15, 15, 15, 15, 15])
strip(ts_bot_epoch_b, ts_bot_epoch, [C_P, C_ET, C_MT, C_UT, C_LJ], 1079, 1095, "x3",
      [253.0, 249.5, 242.77, 218.76, 189.54], [15, 9.5, 14.5, 14.5, 14.5])

# LIP and OAE bars
for o, yv in zip(lip_old, lip_young):
    shapes.append(dict(type="rect", xref="x", yref="paper", x0=o, x1=yv, y0=py(983), y1=py(969),
                       fillcolor=LIPRED, line=dict(width=0)))
shapes.append(dict(type="line", xref="x", yref="paper", x0=pangea_breakup[0], x1=pangea_breakup[1],
                   y0=py(943), y1=py(943), line=dict(color=LIPRED, width=7, dash="9px,9px")))
oae_colors = ["#222222", "#9a9a9a", "#9a9a9a", "#222222"]
for o, yv, c in zip(oae_old, oae_young, oae_colors):
    shapes.append(dict(type="rect", xref="x", yref="paper", x0=o, x1=yv, y0=py(1034), y1=py(1020),
                       fillcolor=c, line=dict(width=0)))

# legend of panel a
paper_line(432, 455, 147, "#a4413f", 2)
ann(460, 148, "405 kyr", 14.5)
paper_rect(520, 546, 143, 152, "#b96f69")
ann(552, 148, "3 Myr", 14.5)
paper_rect(596, 622, 140, 156, "#e9bab4")
ann(627, 147, "10 Myr", 14.5)
paper_line(687, 712, 147, NAVY, 3.5)
ann(716, 147, "1 Myr", 14.5)
paper_rect(760, 786, 140, 156, "#bcc3de")
ann(790, 147, "10 Myr smooth", 14.5)

# panel titles
for letter, y in (("a", 122), ("b", 360), ("c", 494), ("d", 710), ("e", 903), ("f", 942), ("g", 996)):
    ann(185, y, f"<b>{letter}</b>", 23)
ann(222, 121, "BSi burial flux (<span style='color:#c5453b'>Inuyama chert</span> &amp; "
              "<span style='color:#4f6f9f'>GEOCARBSULFvolc</span>)", 21)
ann(222, 360, "Organic C burial flux", 21)
ann(222, 493, "δ<sup>13</sup>C<sub>carb</sub>", 21)
ann(346, 495, "(", 18)
paper_line(360, 392, 495, GREEN, 3.5)
ann(398, 495, "1 Myr smooth)", 18)
ann(222, 709, "<sup>87</sup>Sr / <sup>86</sup>Sr", 21)
ann(222, 903, "Degassing + Organic carbon weathering", 21)
ann(222, 942, "LIPs", 21)
ann(222, 996, "Main OAEs", 21)

# LIP / OAE labels
ann(803, 943, "Break up of pangea", 19.5, color="#a8423a", xanchor="right")
ann(171, 968, "Siberian trap", 19.5, color="#a8423a", halo=True)
ann(425, 965, "Wrangellia", 19.5, color="#a8423a", halo=True)
ann(837, 969, "CAMP", 19.5, color="#a8423a", xanchor="right")
ann(1005, 956, "Karoo", 18.5, color="#a8423a")
ann(1005, 977, "-Ferrar", 18.5, color="#a8423a")
ann(190, 1020, "“Superanoxia”", 19.5, color="#111", halo=True)
ann(418, 1019, "CPE?", 19.5, color="#8c8c8c", halo=True)
ann(842, 1019, "ETE?", 19.5, color="#8c8c8c", xanchor="right")
ann(1072, 1019, "T-OAE", 19.5, color="#111", xanchor="right")

# axis titles and side labels
ann(29, 268, "Inuyama BSi<br>burial flux (gSiO<sup>2</sup> / cm<sup>2</sup> kyr)", 16.5, color=RED,
    xanchor="center", angle=-90, align="center")
ann(135, 386, "δ<sup>13</sup>C<sub>carb</sub>", 16.5, color="#45a88a", xanchor="center")
ann(135, 411, "(‰)", 13, color="#7b9b7b", xanchor="center")
ann(1245, 220, "Modeled global BSi<br>burial flux (Tmol kyr<sup>−1</sup>)", 16.5, color=BLUE,
    xanchor="center", angle=-90, align="center")
ann(1245, 418, "Modeled organic C<br>burial flux (Tmol kyr<sup>−1</sup>)", 16.5, color=BLUE,
    xanchor="center", angle=-90, align="center")
ann(1188, 677, "Calculated<br>global BSi<br>burial flux<br>(Tmol kyr<sup>−1</sup>)", 15,
    xanchor="center", align="center")
ann(1274, 677, "Calculated<br>continental<br>Sr flux<br>(Tmol kyr<sup>−1</sup>)", 15,
    xanchor="center", align="center")
ann(1244, 962, "(Tmol kyr<sup>−1</sup>)", 17, color=BLUE, xanchor="center", angle=-90)
ann(166, 61, "U-Pb", 15, xanchor="right")
ann(166, 77, "Ages", 15, xanchor="right")
ann(1144, 72, "Ma", 18)
ann(153, 1044, "(Ma)", 15, xanchor="center")

# ---------------------------------------------------------------- axes -----
age_ticks = [250, 240, 230, 220, 210, 200, 190, 180]
axes = dict(
    xaxis=dict(domain=[px(138), px(1153)], range=AGE_RANGE, autorange=False, visible=False,
               fixedrange=True),
    xaxis2=dict(overlaying="x", anchor="free", position=py(85), side="top", range=AGE_RANGE,
                autorange=False, tickmode="array", tickvals=age_ticks, ticks="outside",
                ticklen=6, tickwidth=1.3, tickcolor="#222", showline=False, showgrid=False,
                zeroline=False, fixedrange=True, ticklabelstandoff=-5,
                tickfont=dict(family=FONT, size=18, color="#111"),
                minor=dict(tickmode="linear", tick0=0, dtick=1, ticks="outside", ticklen=3,
                           tickwidth=1, tickcolor="#222")),
    xaxis3=dict(overlaying="x", anchor="free", position=py(1061), side="top", range=AGE_RANGE_BOT,
                autorange=False, tickmode="array", tickvals=age_ticks, ticks="outside",
                ticklen=6, tickwidth=1.3, tickcolor="#222", showline=False, showgrid=False,
                zeroline=False, fixedrange=True, ticklabelstandoff=-2,
                tickfont=dict(family=FONT, size=16, color="#111"),
                minor=dict(tickmode="linear", tick0=0, dtick=1, ticks="outside", ticklen=3,
                           tickwidth=1, tickcolor="#222")),
    yaxis=hidden_axis(*MAP_GEO, 90, 430),
    yaxis2=hidden_axis(*MAP_BSI, 90, 430),
    yaxis3=hidden_axis(*MAP_GEO, 90, 430),
    yaxis4=shown_axis(MAP_ORG, 357, 480, 1153, "right", BLUE, [2000, 3000, 4000, 5000, 6000],
                      ["2,000", "3,000", "4,000", "5,000", "6,000"]),
    yaxis5=hidden_axis(*MAP_D13, 380, 725),
    yaxis6=hidden_axis(*MAP_SR, 700, 930),
    yaxis7=shown_axis(MAP_DEG, 918, 1000, 1155, "right", BLUE,
                      [0, 2000, 4000, 6000, 8000, 10000], ["0", "", "", "", "", "10,000"],
                      ticklen=6),
    yaxis8=dict(domain=[py(101), py(85)], range=[0, 1], visible=False, anchor="x", fixedrange=True),
    yaxis9=dict(domain=[py(66), py(54)], range=[0, 1], visible=False, anchor="x", fixedrange=True),
    yaxis10=shown_axis(MAP_BSI, 127, 413, 99, "left", RED, [0, 0.1, 0.2, 0.3, 0.4, 0.5],
                       ["0", "0.1", "0.2", "0.3", "0.4", "0.5"], size=20,
                       minor=dict(tickmode="array", tickvals=[0.05, 0.15, 0.25, 0.35, 0.45],
                                  ticks="outside", ticklen=4, tickwidth=1.5, tickcolor=RED)),
    yaxis11=shown_axis(MAP_GEO, 141, 298, 1153, "right", BLUE, [5000, 6000, 7000, 8000],
                       ["5,000", "6,000", "7,000", "8,000"]),
    yaxis12=shown_axis(MAP_D13, 420, 727, 148, "left", "#7cc07c", list(range(-2, 8)),
                       ["−2", "−1", "0", "1", "2", "3", "4", "5", "6", "7"],
                       labelcolor="#5f8f62", size=16),
    yaxis13=shown_axis(MAP_SR, 741, 921, 98, "left", "#111",
                       [0.7070, 0.7072, 0.7074, 0.7076, 0.7078, 0.7080],
                       ["0.7070", "", "", "", "", "0.7080"], size=16, ticklen=7),
    yaxis14=shown_axis(MAP_SR, 718, 917, 1152, "right", "#111",
                       [0.708056, 0.707833, 0.707500, 0.707172],
                       ["4,500", "4,000", "3,500", "3,000"], size=17),
    yaxis15=shown_axis(MAP_SR, 718, 900, 1240, "right", "#111",
                       [0.708067, 0.707883, 0.707689, 0.707500, 0.707261],
                       ["13", "12", "11", "10", "9"], size=14),
)

fig.update_layout(width=W, height=H, margin=dict(l=0, r=0, t=0, b=0),
                  paper_bgcolor="white", plot_bgcolor="rgba(0,0,0,0)", showlegend=False,
                  font=dict(family=FONT, color="#111"), shapes=shapes, annotations=annotations,
                  bargap=0, **axes)

fig.write_html("out.html")
